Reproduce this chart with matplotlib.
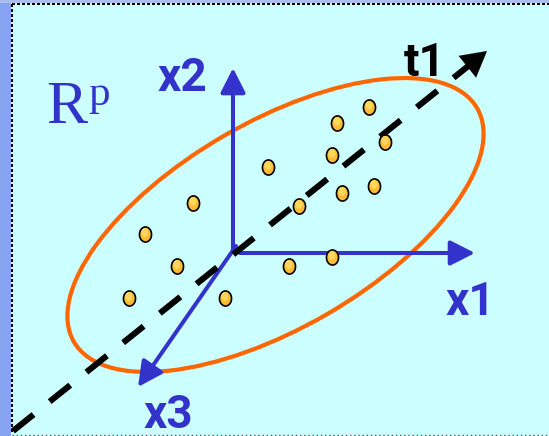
import matplotlib.pyplot as plt
from matplotlib.patches import Ellipse
from matplotlib.path import Path
import numpy as np

# sample points (pixel coords, y down)
pts_x = [369, 337, 385, 332, 268, 374, 342, 299, 193, 145, 177, 289, 332, 129, 225]
pts_y = [107, 123, 142, 155, 167, 186, 193, 206, 203, 234, 266, 266, 257, 298, 298]

# coordinate axes: (start, end)
axis_names = ['x1', 'x2', 'x3']
axis_start = [(240, 253), (233, 252), (236, 246)]
axis_end = [(475, 253), (233, 68), (138, 387)]
axis_label_pos = [(446, 315), (158, 91), (144, 428)]

# principal direction t1
t1_start = (13, 431)
t1_tip = (487, 51)
t1_label_pos = (404, 76)

# ellipse: center, full width, full height, tilt (deg)
ell_center = (275.5, 225)
ell_size = (466, 206)
ell_tilt = 30.1

W, H = 549, 436
BLUE = '#3333cc'

fig = plt.figure(figsize=(W / 100, H / 100), dpi=100)
fig.patch.set_facecolor('#ccffff')
ax = fig.add_axes([0, 0, 1, 1])
ax.set_xlim(0, W)
ax.set_ylim(H, 0)
ax.set_facecolor('#ccffff')
ax.axis('off')

# frame: blue stripe at left/top plus dotted border
ax.axvspan(0, 10.5, color='#86a4f2', lw=0)
ax.axhspan(0, 3, color='#a9bdf0', lw=0)
ax.plot([11.5, W], [4.5, 4.5], color='black', lw=1.5, ls=(0, (1, 1.15)),
        antialiased=False)
ax.plot([11.5, 11.5], [4.5, 434], color='black', lw=1.5, ls=(0, (1, 1.15)),
        antialiased=False)
ax.plot([11.5, W], [435, 435], color='#555555', lw=1.0, ls=(0, (1, 2)))

# ellipse
ax.add_patch(Ellipse(ell_center, ell_size[0], ell_size[1], angle=-ell_tilt,
                     fill=False, edgecolor='#ff6600', lw=3.0, zorder=3))

# axes arrows
for name, s, e, lp in zip(axis_names, axis_start, axis_end, axis_label_pos):
    ax.annotate('', xy=e, xytext=s,
                arrowprops=dict(arrowstyle='-|>,head_length=0.75,head_width=0.38',
                                color=BLUE, lw=2.9, shrinkA=0, shrinkB=0,
                                mutation_scale=20), zorder=4)
    ax.text(lp[0], lp[1], name, color=BLUE, fontsize=33, fontfamily='Roboto',
            fontweight='bold', ha='left', va='baseline', zorder=6)

# t1 dashed line and arrow head
d = np.array(t1_tip) - np.array(t1_start)
u = d / np.hypot(*d)
base = np.array(t1_tip) - u * 18
ax.plot([t1_start[0], base[0]], [t1_start[1], base[1]], color='black', lw=4.4,
        dashes=(4.3, 3.4), solid_capstyle='butt', dash_capstyle='butt', zorder=5)
ax.annotate('', xy=t1_tip, xytext=base - u * 2,
            arrowprops=dict(arrowstyle='-|>,head_length=0.9,head_width=0.5',
                            color='black', lw=0.1, shrinkA=0, shrinkB=0,
                            mutation_scale=20), zorder=5)
ax.text(t1_label_pos[0], t1_label_pos[1], 't1', color='black', fontsize=33,
        fontfamily='Roboto', fontweight='bold', ha='left', va='baseline', zorder=6)

# R^p label
ax.text(46, 123, 'R', color=BLUE, fontsize=44.5, fontfamily='Liberation Serif',
        ha='left', va='baseline')
ax.text(88, 104.5, 'p', color=BLUE, fontsize=31, fontfamily='Liberation Serif',
        ha='left', va='baseline')

# points as slightly tall ellipses
t = np.linspace(0, 2 * np.pi, 60)
egg = Path(np.column_stack([0.8 * np.cos(t), np.sin(t)]), closed=True)
ax.scatter(pts_x, pts_y, s=118, marker=egg, facecolor='#ffbb33',
           edgecolor='black', linewidths=1.2, zorder=7)
ax.scatter(pts_x, [y - 1.5 for y in pts_y], s=40, marker=egg, facecolor='#ffd75a',
           edgecolor='none', zorder=8)

fig.savefig('out.png', dpi=100, facecolor=fig.get_facecolor())
